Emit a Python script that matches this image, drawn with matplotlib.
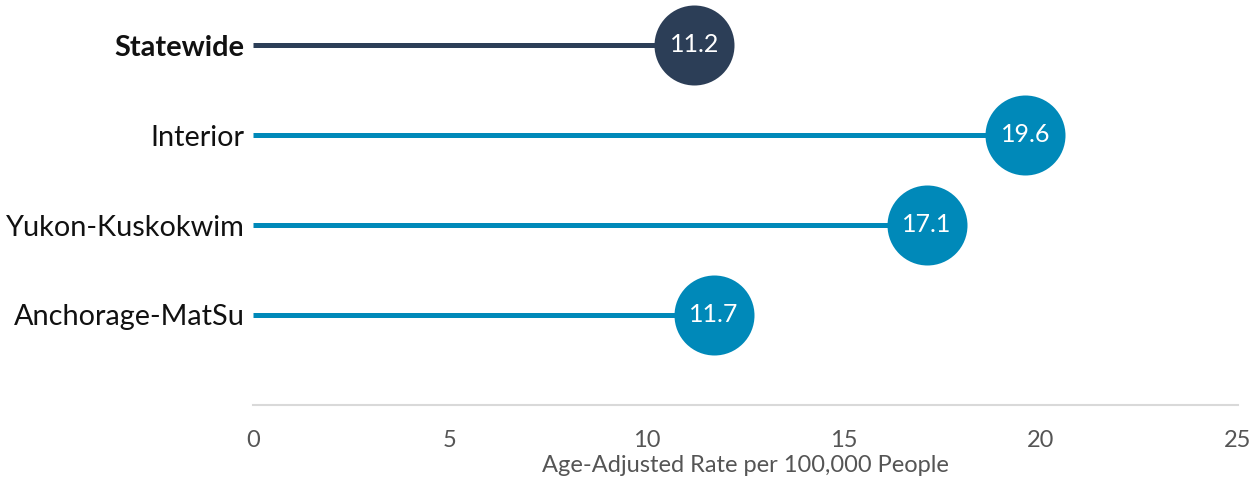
import matplotlib.pyplot as plt

# Data
regions = ['Statewide', 'Interior', 'Yukon-Kuskokwim', 'Anchorage-MatSu']
rates = [11.2, 19.6, 17.1, 11.7]
colors = ['#2c3e57', '#0089b9', '#0089b9', '#0089b9']
xticks = [0, 5, 10, 15, 20, 25]

plt.rcParams['font.family'] = ['Lato', 'DejaVu Sans']

fig = plt.figure(figsize=(12.57, 4.84), dpi=100)
ax = fig.add_axes([253 / 1257, 79 / 484, 985 / 1257, 405 / 484])

for i, (name, val, c) in enumerate(zip(regions, rates, colors)):
    ax.plot([0, val], [i, i], color=c, lw=3.6, solid_capstyle='butt', zorder=2)
    ax.plot(val, i, 'o', color=c, markersize=57.6, markeredgewidth=0, zorder=3)
    ax.text(val, i, f'{val}', color='white', ha='center', va='center',
            fontsize=18, zorder=4)

ax.set_xlim(0, 25)
ax.set_ylim(4, -0.5)
ax.set_yticks(range(len(regions)))
ax.set_yticklabels(regions, fontsize=20.8, color='#111111')
ax.get_yticklabels()[0].set_fontweight('bold')
ax.tick_params(axis='y', length=0, pad=6)

ax.set_xticks(xticks)
ax.set_xticklabels([str(t) for t in xticks], fontsize=17, color='#555555')
ax.tick_params(axis='x', length=0, pad=18)
ax.set_xlabel('Age-Adjusted Rate per 100,000 People', fontsize=17, color='#555555', labelpad=3)

for s in ['top', 'right', 'left']:
    ax.spines[s].set_visible(False)
ax.spines['bottom'].set_color('#d9d9d9')
ax.spines['bottom'].set_linewidth(1.5)

fig.savefig('out.png', dpi=100)
